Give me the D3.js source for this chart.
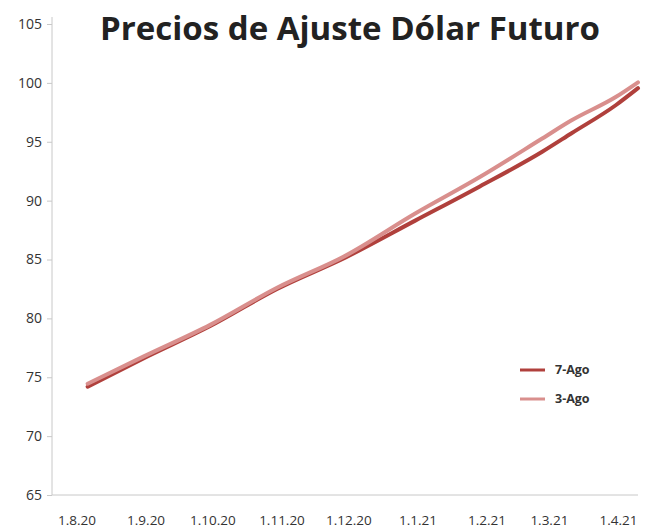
<!DOCTYPE html>
<html><head><meta charset="utf-8">
<script src="https://cdn.jsdelivr.net/npm/d3@7"></script>
<style>body{margin:0;background:#fff}svg{display:block}</style>
</head><body><svg id="c" width="654" height="531"></svg>
<script>
const title = "Precios de Ajuste Dólar Futuro";
const dates = ["2020-08-06","2020-08-31","2020-09-30","2020-10-30","2020-11-30","2020-12-31","2021-01-29","2021-02-26","2021-03-11","2021-03-31","2021-04-10"];
const seriesNames = ["7-Ago","3-Ago"];
const ago7 = [74.2,76.6,79.35,82.5,85.2,88.3,91.2,94.15,95.7,98.1,99.55];
const ago3 = [74.45,76.75,79.45,82.6,85.35,88.9,92.0,95.27,96.8,98.8,100.05];
const xTicks = ["2020-08-01","2020-09-01","2020-10-01","2020-11-01","2020-12-01","2021-01-01","2021-02-01","2021-03-01","2021-04-01"];
const yTicks = [65,70,75,80,85,90,95,100,105];
const colors = ["#b0403c","#d98f8d"];

const parse = d3.utcParse("%Y-%m-%d");
const svg = d3.select("#c");
const x = d3.scaleUtc().domain([parse("2020-07-21"), parse("2021-04-10")]).range([52, 638]);
const y = d3.scaleLinear().domain([65,105]).range([495,24]);
const font = "'Open Sans', sans-serif";

svg.append("text").attr("x",350).attr("y",40).attr("text-anchor","middle")
  .attr("font-family",font).attr("font-weight",700).attr("font-size",32).attr("fill","#222")
  .attr("textLength",500).attr("lengthAdjust","spacingAndGlyphs")
  .text(title);

// y axis
const ya = svg.append("g").attr("transform","translate(52,0)")
  .call(d3.axisLeft(y).tickValues(yTicks).tickSize(5).tickPadding(5));
ya.select(".domain").attr("d","M0,17V495").attr("stroke","#c8c8c8");
ya.selectAll(".tick line").attr("stroke","#c8c8c8");
ya.selectAll("text").attr("font-family",font).attr("font-size",14).attr("fill","#333");

// x axis
const xa = svg.append("g").attr("transform","translate(0,495)")
  .call(d3.axisBottom(x).tickValues(xTicks.map(parse)).tickSize(0).tickPadding(20)
    .tickFormat(d => `1.${d.getUTCMonth()+1}.${String(d.getUTCFullYear()).slice(2)}`));
xa.select(".domain").attr("d","M52,0H638").attr("stroke","#c8c8c8");
xa.selectAll("text").attr("font-family",font).attr("font-size",13.5).attr("fill","#333");

const line = d3.line().x((d,i)=>x(parse(dates[i]))).y(d=>y(d)).curve(d3.curveMonotoneX);
[ago7, ago3].forEach((s,k)=>{
  svg.append("path").datum(s).attr("d",line).attr("fill","none")
    .attr("stroke",colors[k]).attr("stroke-width",4).attr("stroke-linecap","round").attr("stroke-linejoin","round");
});
const lg = svg.append("g");
seriesNames.forEach((n,i)=>{
  const yy = 370 + i*29;
  lg.append("line").attr("x1",520).attr("x2",545).attr("y1",yy).attr("y2",yy)
    .attr("stroke",colors[i]).attr("stroke-width",3);
  lg.append("text").attr("x",555).attr("y",yy+4).attr("font-family",font)
    .attr("font-weight",700).attr("font-size",12.5).attr("fill","#333").text(n);
});
</script></body></html>
